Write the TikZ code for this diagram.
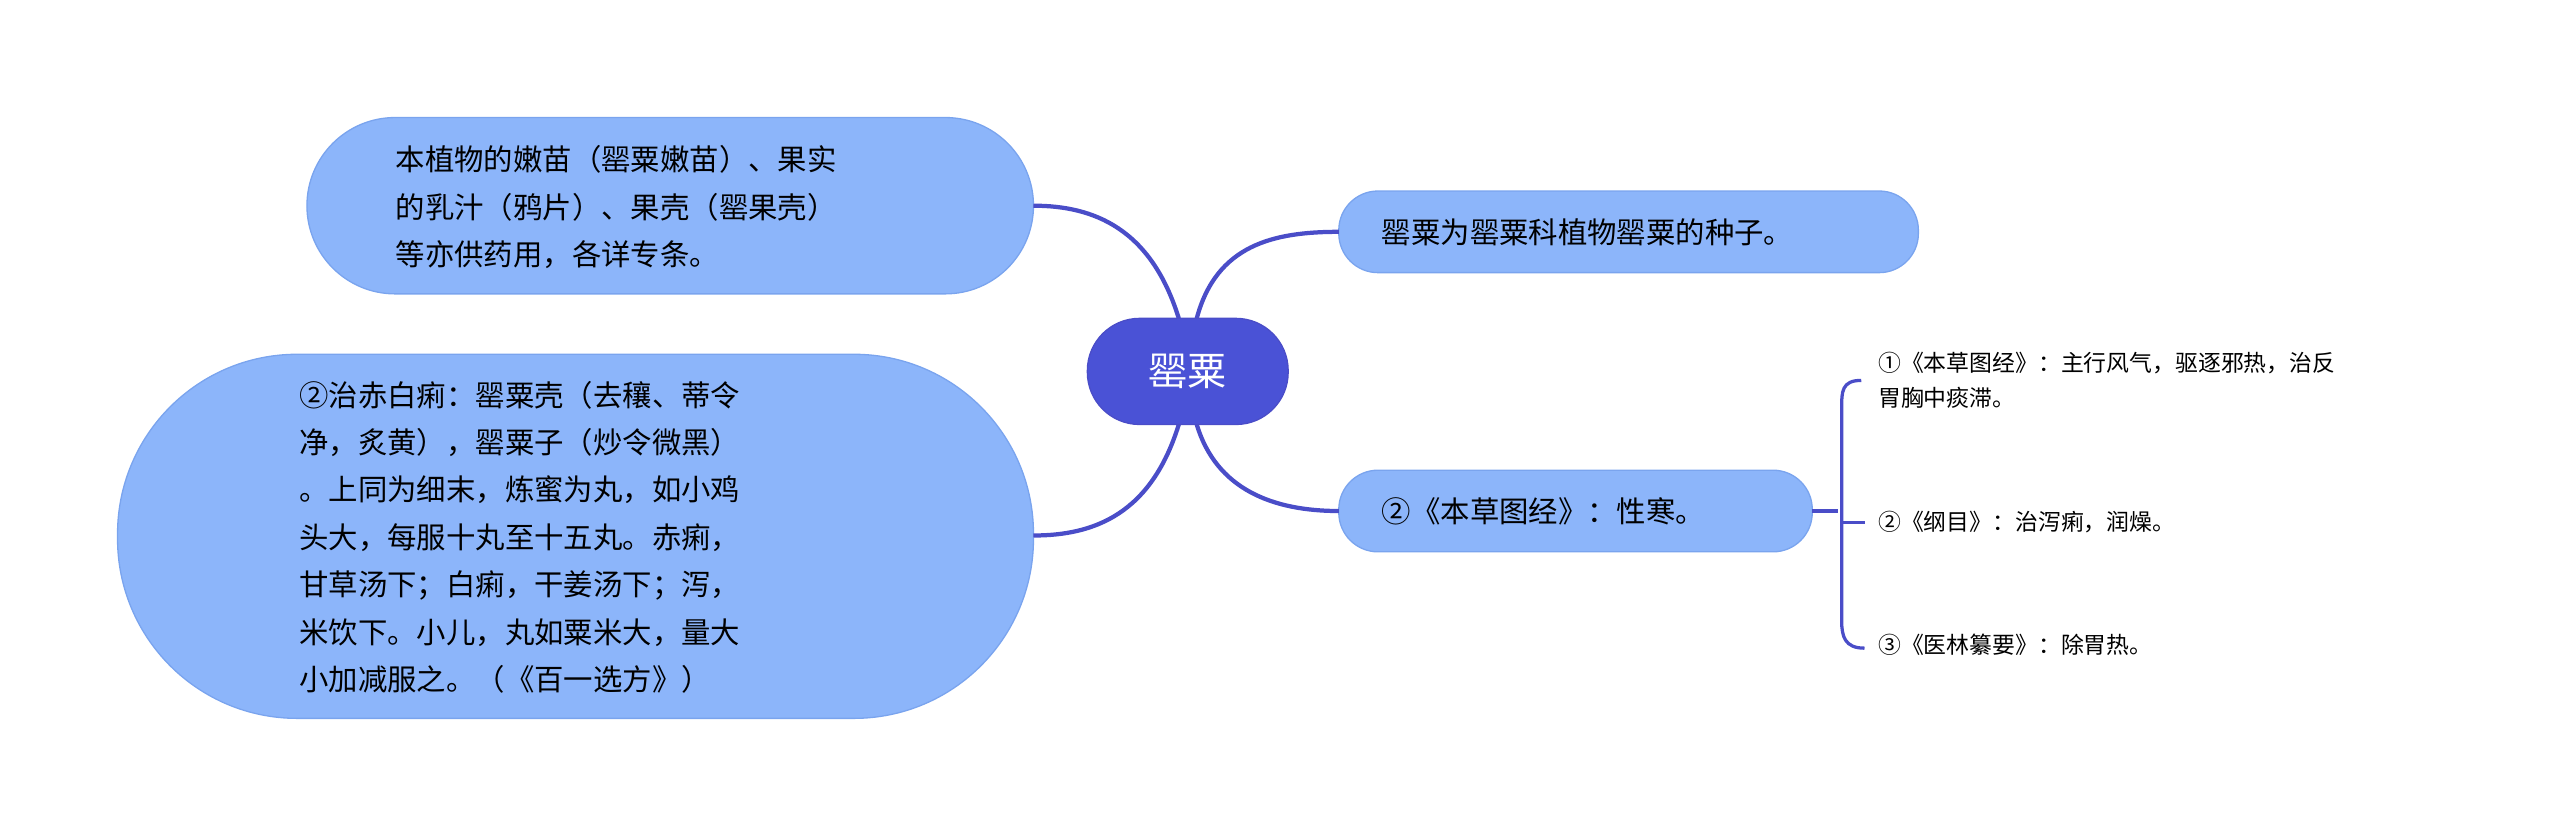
\documentclass[tikz,border=0pt]{standalone}
\usepackage{fontspec}
\setmainfont{Noto Sans CJK SC}
\begin{document}
\begin{tikzpicture}[x=0.5pt,y=-0.5pt,
  leafbox/.style={rounded corners=25pt*0.5, fill=boxblue, draw=boxedge, line width=0.6pt, inner sep=0pt},
  conn/.style={draw=linecol, line width=1.3pt},
  txt/.style={font=\fontsize{9pt}{14.5pt}\selectfont, text=black, align=left, anchor=west, inner sep=0pt},
  small/.style={font=\fontsize{7pt}{10.5pt}\selectfont, text=black, align=left, anchor=west, inner sep=0pt}]
\definecolor{boxblue}{HTML}{8CB5FA}
\definecolor{boxedge}{HTML}{7AA4EE}
\definecolor{linecol}{HTML}{4A4DC8}
\definecolor{centcol}{HTML}{4A52D6}
\useasboundingbox (0,0) rectangle (1568,512);
% boxes
\draw[fill=centcol, draw=linecol, rounded corners=16pt] (666,195) rectangle (789,260);
\node[font=\fontsize{12pt}{14pt}\selectfont, text=white] (c) at (727.5,227.5) {罂粟};
\draw[fill=boxblue, draw=boxedge, rounded corners=27pt] (188,72) rectangle (633,180);
\node[txt] (tl) at (242,127) {本植物的嫩苗（罂粟嫩苗）、果实\\的乳汁（鸦片）、果壳（罂果壳）\\等亦供药用，各详专条。};
\draw[fill=boxblue, draw=boxedge, rounded corners=55pt] (72,217) rectangle (633,440);
\node[txt] (bl) at (183,329) {②治赤白痢：罂粟壳（去穰、蒂令\\净，炙黄），罂粟子（炒令微黑）\\。上同为细末，炼蜜为丸，如小鸡\\头大，每服十丸至十五丸。赤痢，\\甘草汤下；白痢，干姜汤下；泻，\\米饮下。小儿，丸如粟米大，量大\\小加减服之。（《百一选方》）};
\draw[fill=boxblue, draw=boxedge, rounded corners=12pt] (820,117) rectangle (1175,167);
\node[txt] (r1) at (846,142) {罂粟为罂粟科植物罂粟的种子。};
\draw[fill=boxblue, draw=boxedge, rounded corners=12pt] (820,288) rectangle (1110,338);
\node[txt] (r2) at (846,313) {②《本草图经》：性寒。};
\node[small] (l1) at (1150,233) {①《本草图经》：主行风气，驱逐邪热，治反\\胃胸中痰滞。};
\node[small] (l2) at (1150,320) {②《纲目》：治泻痢，润燥。};
\node[small] (l3) at (1150,395) {③《医林纂要》：除胃热。};
\coordinate (ctr) at (733,195); \coordinate (ctl) at (722,195);
\coordinate (cbr) at (733,260); \coordinate (cbl) at (722,260);
\coordinate (tlR) at (633,126); \coordinate (blR) at (633,328);
\coordinate (r1L) at (820,142); \coordinate (r2L) at (820,313);
\coordinate (r2R) at (1110,313);
% connectors
\path[conn] (ctr) .. controls (745,150) and (780,142) .. (r1L);
\path[conn] (ctl) .. controls (705,140) and (670,126) .. (tlR);
\path[conn] (cbl) .. controls (705,315) and (670,328) .. (blR);
\path[conn] (cbr) .. controls (745,300) and (780,313) .. (r2L);
\path[conn, line width=1pt] (r2R) -- (1126,313);
\path[conn, line width=1pt] (1140,233) .. controls (1128,233) and (1128,240) .. (1128,250) -- (1128,380) .. controls (1128,390) and (1130,397) .. (1142,397);
\path[conn, line width=1pt] (1128,320) -- (1142,320);
\end{tikzpicture}
\end{document}
